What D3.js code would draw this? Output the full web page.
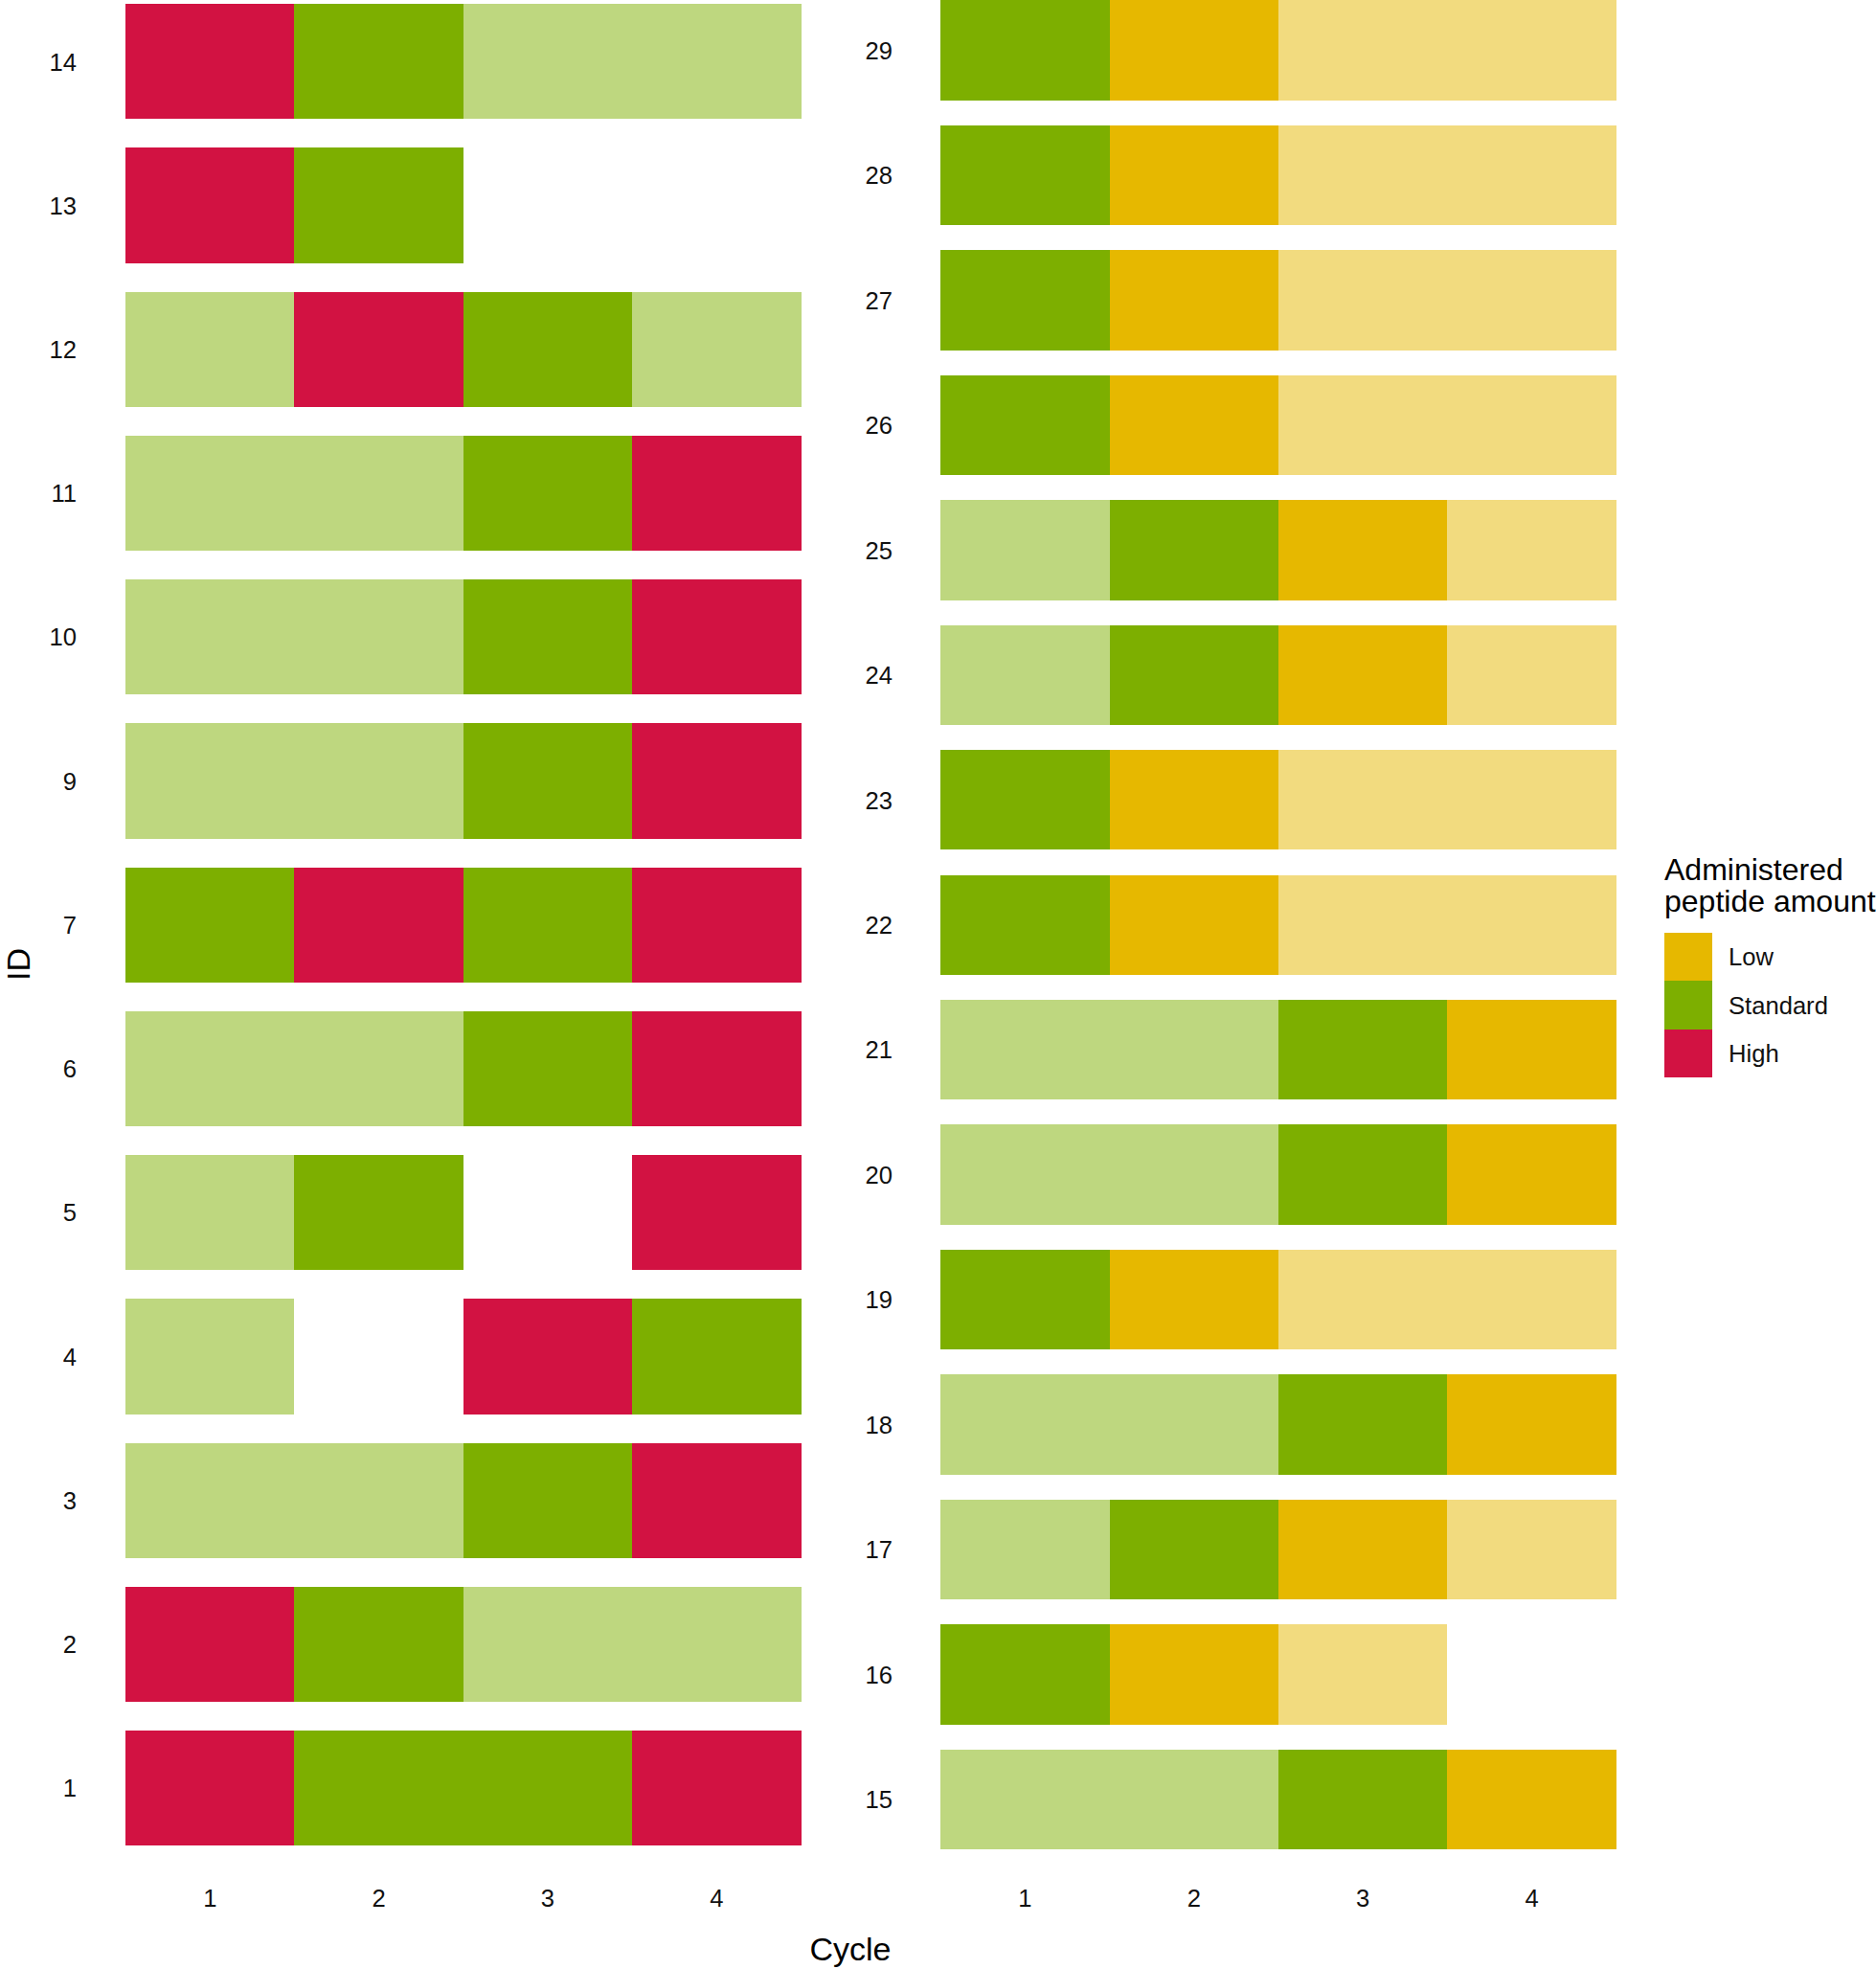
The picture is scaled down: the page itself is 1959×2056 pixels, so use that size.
<!DOCTYPE html>
<html>
<head>
<meta charset="utf-8">
<script src="https://cdn.jsdelivr.net/npm/d3@7"></script>
<style>
  html, body { margin: 0; padding: 0; background: #fff; }
  svg { display: block; font-family: "Liberation Sans", Arial, sans-serif; }
</style>
</head>
<body>
<svg id="chart" width="1959" height="2056"></svg>
<script>
// ---- data ----
const cycles = [1, 2, 3, 4];
const levels = ["Low", "Standard", "High"];
const levelColors = ["#e6b800", "#7daf00", "#d21242"];
// codes: L = Low, S = Standard, H = High; lower case = faded (same level, 50% alpha); null = none
const leftIDs = [1, 2, 3, 4, 5, 6, 7, 9, 10, 11, 12, 13, 14];
const leftDoses = [
  ["H", "S", "S", "H"],   // 1
  ["H", "S", "s", "s"],   // 2
  ["s", "s", "S", "H"],   // 3
  ["s", null, "H", "S"],  // 4
  ["s", "S", null, "H"],  // 5
  ["s", "s", "S", "H"],   // 6
  ["S", "H", "S", "H"],   // 7
  ["s", "s", "S", "H"],   // 9
  ["s", "s", "S", "H"],   // 10
  ["s", "s", "S", "H"],   // 11
  ["s", "H", "S", "s"],   // 12
  ["H", "S", null, null], // 13
  ["H", "S", "s", "s"]    // 14
];
const rightIDs = [15, 16, 17, 18, 19, 20, 21, 22, 23, 24, 25, 26, 27, 28, 29];
const rightDoses = [
  ["s", "s", "S", "L"],   // 15
  ["S", "L", "l", null],  // 16
  ["s", "S", "L", "l"],   // 17
  ["s", "s", "S", "L"],   // 18
  ["S", "L", "l", "l"],   // 19
  ["s", "s", "S", "L"],   // 20
  ["s", "s", "S", "L"],   // 21
  ["S", "L", "l", "l"],   // 22
  ["S", "L", "l", "l"],   // 23
  ["s", "S", "L", "l"],   // 24
  ["s", "S", "L", "l"],   // 25
  ["S", "L", "l", "l"],   // 26
  ["S", "L", "l", "l"],   // 27
  ["S", "L", "l", "l"],   // 28
  ["S", "L", "l", "l"]    // 29
];

// ---- drawing ----
const svg = d3.select("#chart");
const codeLevel = { L: "Low", S: "Standard", H: "High" };
const color = d3.scaleOrdinal().domain(levels).range(levelColors);
const textColor = "#111";

const yTop = -25.8, yBottom = 1957.3;

function panel(ids, doses, x0, x1, labelRight) {
  const x = d3.scaleBand().domain(cycles).range([x0, x1]).padding(0);
  const y = d3.scaleBand().domain(ids).range([yBottom, yTop])
    .paddingInner(0.2).paddingOuter(0.2);
  const g = svg.append("g");

  const cells = [];
  ids.forEach((id, i) => {
    doses[i].forEach((code, j) => {
      if (code) cells.push({ id, cycle: cycles[j], code });
    });
  });

  g.selectAll("rect.cell").data(cells).join("rect")
    .attr("class", "cell")
    .attr("x", d => x(d.cycle))
    .attr("y", d => y(d.id))
    .attr("width", x.bandwidth())
    .attr("height", y.bandwidth())
    .attr("fill", d => color(codeLevel[d.code.toUpperCase()]))
    .attr("fill-opacity", d => d.code === d.code.toUpperCase() ? 1 : 0.5)
    .attr("shape-rendering", "crispEdges");

  // y axis labels
  const ya = g.append("g")
    .attr("transform", `translate(${labelRight},0)`)
    .call(d3.axisLeft(y).tickSize(0).tickPadding(0));
  ya.select(".domain").remove();
  ya.selectAll("text")
    .attr("font-size", 25.6)
    .attr("font-family", "Liberation Sans, Arial, sans-serif")
    .attr("fill", textColor)
    .attr("dy", "0.36em");

  // x axis labels
  const xa = g.append("g")
    .attr("transform", `translate(0,1991)`)
    .call(d3.axisBottom(x).tickSize(0).tickPadding(0));
  xa.select(".domain").remove();
  xa.selectAll("text")
    .attr("font-size", 25.6)
    .attr("font-family", "Liberation Sans, Arial, sans-serif")
    .attr("fill", textColor)
    .attr("dy", 0);
}

panel(leftIDs, leftDoses, 131.1, 836.5, 80);
panel(rightIDs, rightDoses, 982.1, 1687.8, 932);

// axis titles
svg.append("text")
  .attr("x", 888).attr("y", 2047)
  .attr("text-anchor", "middle")
  .attr("font-size", 34)
  .attr("fill", "#000")
  .text("Cycle");

svg.append("text")
  .attr("transform", "translate(31,1007) rotate(-90)")
  .attr("text-anchor", "middle")
  .attr("font-size", 34)
  .attr("fill", "#000")
  .text("ID");

// legend
const lg = svg.append("g").attr("transform", "translate(1738,0)");
lg.append("text").attr("x", 0).attr("y", 919).attr("font-size", 32).attr("fill", "#000").text("Administered");
lg.append("text").attr("x", 0).attr("y", 952).attr("font-size", 32).attr("fill", "#000").text("peptide amount");
const keyY = d3.scaleBand().domain(levels).range([974, 1125]);
lg.selectAll("rect.key").data(levels).join("rect")
  .attr("class", "key")
  .attr("x", 0).attr("y", d => keyY(d))
  .attr("width", 50).attr("height", keyY.bandwidth())
  .attr("fill", d => color(d))
  .attr("shape-rendering", "crispEdges");
lg.selectAll("text.klab").data(levels).join("text")
  .attr("class", "klab")
  .attr("x", 67)
  .attr("y", d => keyY(d) + keyY.bandwidth() / 2)
  .attr("dy", "0.36em")
  .attr("font-size", 25.6)
  .attr("fill", textColor)
  .text(d => d);
</script>
</body>
</html>
